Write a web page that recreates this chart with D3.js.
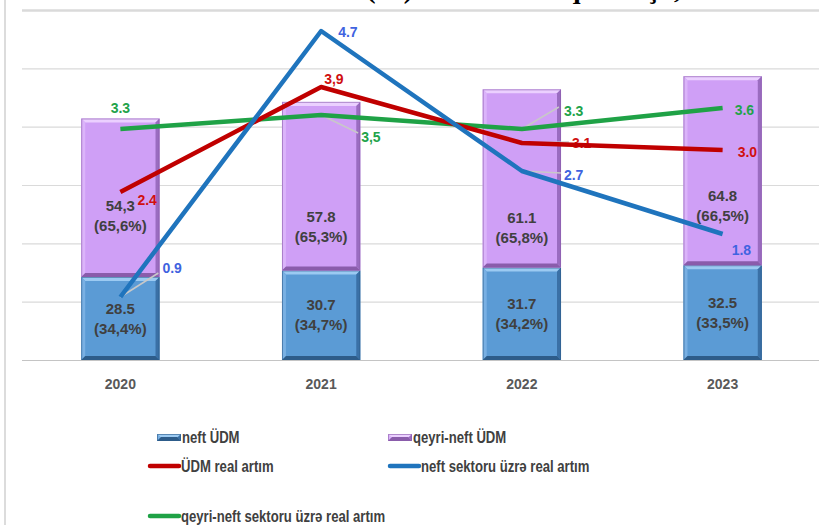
<!DOCTYPE html>
<html>
	<head>
		<title>ÜDM və real artım</title>
		<meta charset="utf-8">
		<script src="https://cdn.jsdelivr.net/npm/d3@7"></script>
	</head>
	<body>
		<svg id="chart" width="819" height="525"></svg>
	</body>

	<script>
		// Data

		const years = ["2020", "2021", "2022", "2023"];

		const neftUdm = [28.5, 30.7, 31.7, 32.5];
		const qeyriNeftUdm = [54.3, 57.8, 61.1, 64.8];

		const neftUdmLabels = ["28.5", "30.7", "31.7", "32.5"];
		const neftUdmShares = ["(34,4%)", "(34,7%)", "(34,2%)", "(33,5%)"];
		const qeyriNeftUdmLabels = ["54,3", "57.8", "61.1", "64.8"];
		const qeyriNeftUdmShares = ["(65,6%)", "(65,3%)", "(65,8%)", "(66,5%)"];

		const udmArtim = [2.4, 3.9, 3.1, 3.0];
		const neftArtim = [0.9, 4.7, 2.7, 1.8];
		const qeyriNeftArtim = [3.3, 3.5, 3.3, 3.6];

		const udmArtimLabels = ["2.4", "3,9", "3.1", "3.0"];
		const neftArtimLabels = ["0.9", "4.7", "2.7", "1.8"];
		const qeyriNeftArtimLabels = ["3.3", "3,5", "3.3", "3.6"];

		const legendNames = ["neft ÜDM", "qeyri-neft ÜDM", "ÜDM real artım", "neft sektoru üzrə real artım", "qeyri-neft sektoru üzrə real artım"];

		// Layout

		let width = 819, height = 525;
		let svg = d3.select("#chart");

		let x = d3.scalePoint().domain(years).range([20, 823]).padding(0.5);
		let barWidth = x.step() * 0.39;

		let yLeft = d3.scaleLinear().domain([0, 120]).range([360, 10]);
		let yRight = d3.scaleLinear().domain([0, 5]).range([360, 10]);

		let blueBar = { body: "#5b9bd5", top: "#9bcaf2", left: "#79b0e3", right: "#3a70a6", bottom: "#2d5c8a" };
		let purpleBar = { body: "#cf9ff6", top: "#ebd0ff", left: "#dbb4fa", right: "#9a6cc0", bottom: "#8a5cab" };

		// label offsets from each point: [dx, dy, anchor, leader end] (leader null = none)
		let qeyriLabelPos = [[0, -21, "middle", null], [40, 22, "start", [37, 18]], [42, -18, "start", [37, -22]], [12, 2, "start", null]];
		let udmLabelPos = [[17, 8, "start", null], [3, -8, "start", null], [50, 0, "start", [47, -1]], [15, 2, "start", null]];
		let neftLabelPos = [[42, -29, "start", [38, -24]], [17, 1, "start", null], [42, 4, "start", [39, 2]], [9, 16, "start", null]];
		let qeyriBarLabelShift = [18, 41, 49, 35];

		// Title (cut off at the top of the picture)

		svg.append("text")
			.attr("x", 413)
			.attr("y", -2)
			.attr("text-anchor", "end")
			.attr("font-family", "Liberation Serif, serif")
			.attr("font-weight", "bold")
			.attr("font-size", 28)
			.attr("fill", "#000")
			.text("Real ÜDM artımı (%)");

		svg.append("text")
			.attr("x", 425)
			.attr("y", -2)
			.attr("font-family", "Liberation Serif, serif")
			.attr("font-weight", "bold")
			.attr("font-size", 28)
			.attr("fill", "#000")
			.text("və ÜDM-in quruluşu, mlrd. manat");

		// frame line on the left
		svg.append("line")
			.attr("x1", 5).attr("x2", 5)
			.attr("y1", 0).attr("y2", height)
			.attr("stroke", "#dcdcdc")
			.attr("stroke-width", 2);

		// Gridlines

		svg.append("g")
			.selectAll("line")
			.data(yLeft.ticks(6))
			.join("line")
				.attr("x1", 22)
				.attr("x2", width)
				.attr("y1", d => yLeft(d) + 0.5)
				.attr("y2", d => yLeft(d) + 0.5)
				.attr("stroke", d => d == 0 ? "#c4c4c4" : "#dadada")
				.attr("stroke-width", d => d == 120 ? 2.5 : 1.2);

		// X axis labels

		svg.append("g")
			.selectAll("text")
			.data(years)
			.join("text")
				.attr("x", d => x(d))
				.attr("y", 389)
				.attr("text-anchor", "middle")
				.attr("font-family", "Liberation Sans, Arial, sans-serif")
				.attr("font-weight", "bold")
				.attr("font-size", 14)
				.attr("fill", "#595959")
				.text(d => d);

		// Bars with bevel edges

		function bevelBar(g, x0, y0, w, h, c)
		{
			let b = 4;
			g.append("rect").attr("x", x0).attr("y", y0).attr("width", w).attr("height", h).attr("fill", c.body);
			g.append("polygon").attr("fill", c.top)
				.attr("points", [[x0, y0], [x0 + w, y0], [x0 + w - b, y0 + b], [x0 + b, y0 + b]].join(" "));
			g.append("polygon").attr("fill", c.left)
				.attr("points", [[x0, y0], [x0 + b, y0 + b], [x0 + b, y0 + h - b], [x0, y0 + h]].join(" "));
			g.append("polygon").attr("fill", c.right)
				.attr("points", [[x0 + w, y0], [x0 + w, y0 + h], [x0 + w - b, y0 + h - b], [x0 + w - b, y0 + b]].join(" "));
			g.append("polygon").attr("fill", c.bottom)
				.attr("points", [[x0, y0 + h], [x0 + b, y0 + h - b], [x0 + w - b, y0 + h - b], [x0 + w, y0 + h]].join(" "));
			g.append("rect").attr("x", x0 + 0.5).attr("y", y0 + 0.5).attr("width", w - 1).attr("height", h - 1)
				.attr("fill", "none").attr("stroke", c.bottom).attr("stroke-opacity", 0.6);
		}

		let bars = svg.append("g");

		years.forEach((year, i) =>
		{
			let x0 = x(year) - barWidth / 2;
			let neftTop = yLeft(neftUdm[i]);
			let totalTop = yLeft(neftUdm[i] + qeyriNeftUdm[i]);

			bevelBar(bars, x0, neftTop, barWidth, yLeft(0) - neftTop, blueBar);
			bevelBar(bars, x0, totalTop, barWidth, neftTop - totalTop, purpleBar);
		});

		// Bar labels

		function barLabel(cx, cy, line1, line2)
		{
			let t = svg.append("text")
				.attr("text-anchor", "middle")
				.attr("font-family", "Liberation Sans, Arial, sans-serif")
				.attr("font-weight", "bold")
				.attr("font-size", 15)
				.attr("fill", "#404040");
			t.append("tspan").attr("x", cx).attr("y", cy - 10).attr("dy", "0.35em").text(line1);
			t.append("tspan").attr("x", cx).attr("y", cy + 10).attr("dy", "0.35em").text(line2);
		}

		years.forEach((year, i) =>
		{
			let neftTop = yLeft(neftUdm[i]);
			let totalTop = yLeft(neftUdm[i] + qeyriNeftUdm[i]);

			barLabel(x(year), (neftTop + yLeft(0)) / 2, neftUdmLabels[i], neftUdmShares[i]);
			barLabel(x(year), (totalTop + neftTop) / 2 + qeyriBarLabelShift[i], qeyriNeftUdmLabels[i], qeyriNeftUdmShares[i]);
		});

		// Lines on the hidden right axis

		let series = [
			{ values: qeyriNeftArtim, labels: qeyriNeftArtimLabels, pos: qeyriLabelPos, color: "#1fa246", text: "#22a34a" },
			{ values: udmArtim, labels: udmArtimLabels, pos: udmLabelPos, color: "#c00000", text: "#d01010" },
			{ values: neftArtim, labels: neftArtimLabels, pos: neftLabelPos, color: "#1f74bd", text: "#3f63e0" }
		];

		let line = d3.line()
			.x((d, i) => x(years[i]))
			.y(d => yRight(d));

		let leaders = svg.append("g");
		let lineLabels = svg.append("g");
		let lines = svg.append("g");

		for (let s of series)
		{
			lines.append("path")
				.attr("d", line(s.values))
				.attr("fill", "none")
				.attr("stroke", s.color)
				.attr("stroke-width", 4.5)
				.attr("stroke-linejoin", "round");

			s.values.forEach((v, i) =>
			{
				let px = x(years[i]);
				let py = yRight(v);
				let p = s.pos[i];

				if (p[3])
				{
					leaders.append("line")
						.attr("x1", px).attr("y1", py)
						.attr("x2", px + p[3][0]).attr("y2", py + p[3][1])
						.attr("stroke", "#c8c8c8")
						.attr("stroke-width", 1.5);
				}

				lineLabels.append("text")
					.attr("x", px + p[0])
					.attr("y", py + p[1])
					.attr("dy", "0.35em")
					.attr("text-anchor", p[2])
					.attr("font-family", "Liberation Sans, Arial, sans-serif")
					.attr("font-weight", "bold")
					.attr("font-size", 14)
					.attr("fill", s.text)
					.text(s.labels[i]);
			});
		}

		// Legend

		let legendPos = [[157, 437], [388, 437], [148, 466], [388, 466], [148, 516]];
		let legendKind = ["bar", "bar", "line", "line", "line"];
		let legendColor = [blueBar, purpleBar, "#c00000", "#1f74bd", "#1fa246"];

		let legend = svg.append("g");

		legendNames.forEach((name, i) =>
		{
			let [lx, ly] = legendPos[i];
			let textX;

			if (legendKind[i] == "bar")
			{
				bevelBar(legend, lx, ly - 3, 24, 7, legendColor[i]);
				textX = lx + 25;
			}
			else
			{
				legend.append("line")
					.attr("x1", lx + 2).attr("x2", lx + 31)
					.attr("y1", ly).attr("y2", ly)
					.attr("stroke", legendColor[i])
					.attr("stroke-width", 4.5)
					.attr("stroke-linecap", "round");
				textX = lx + 33;
			}

			// condensed look of the original narrow font
			legend.append("text")
				.attr("transform", `translate(${textX},${ly}) scale(0.82,1)`)
				.attr("dy", "0.35em")
				.attr("font-family", "Liberation Sans Narrow, Arial Narrow, Liberation Sans, sans-serif")
				.attr("font-weight", "bold")
				.attr("font-size", 16)
				.attr("fill", "#404040")
				.text(name);
		});

	</script>

	<style>
		html, body
		{
			margin: 0;
			background: #fff;
			overflow: hidden;
		}

		#chart
		{
			display: block;
		}
	</style>
</html>
